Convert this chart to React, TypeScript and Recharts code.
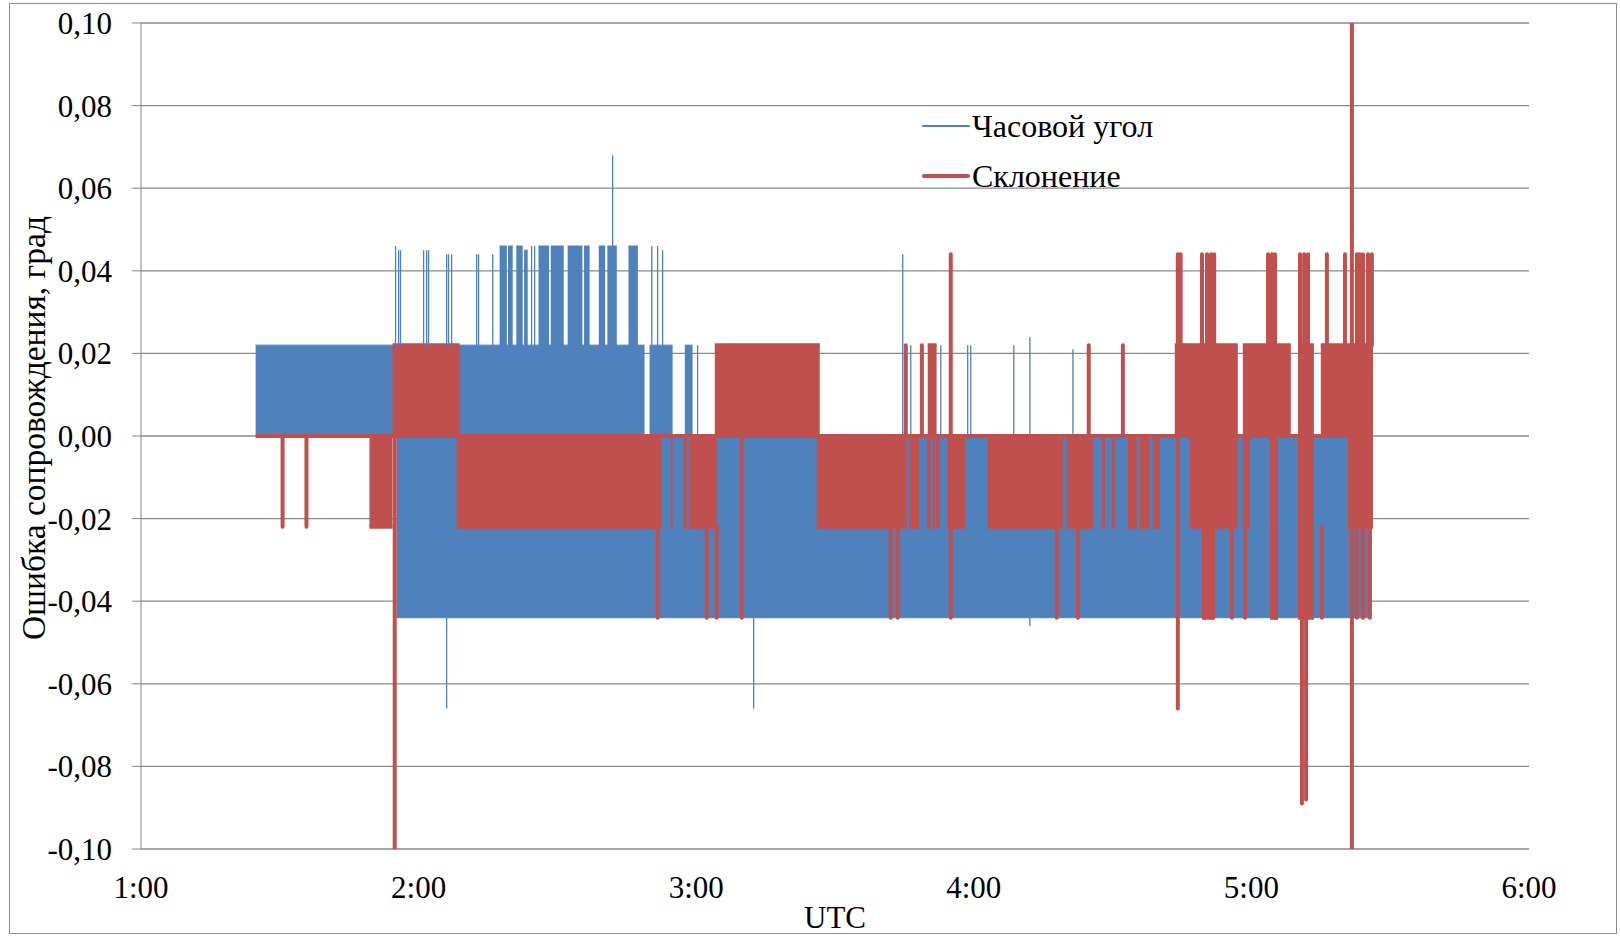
import React from 'react'
import { ComposedChart, Area, Line, XAxis, YAxis, CartesianGrid, Legend } from 'recharts'

// time is in hours UTC (1.5 = 1:30), values are tracking error in degrees
type Block = [number, number, number, number] // start, end, low, high (dense oscillation)
type Spike = [number, number, number] // time, from, to

const xTicks = [1, 2, 3, 4, 5, 6]
const xTickLabels = ['1:00', '2:00', '3:00', '4:00', '5:00', '6:00']
const yTicks = [-0.1, -0.08, -0.06, -0.04, -0.02, 0, 0.02, 0.04, 0.06, 0.08, 0.1]
const yTickLabels = ['-0,10', '-0,08', '-0,06', '-0,04', '-0,02', '0,00', '0,02', '0,04', '0,06', '0,08', '0,10']

// Часовой угол
const hourAngleBlocks: Block[] = [
    [1.413, 1.906, 0, 0.022],
    [1.906, 2.814, 0, 0.022],
    [2.832, 2.915, 0, 0.022],
    [2.959, 2.987, 0, 0.022],
    [1.921, 5.427, -0.044, 0],
    [2.292, 2.318, 0.022, 0.046],
    [2.322, 2.339, 0.022, 0.046],
    [2.352, 2.375, 0.022, 0.046],
    [2.380, 2.393, 0.022, 0.045],
    [2.432, 2.470, 0.022, 0.046],
    [2.476, 2.523, 0.022, 0.046],
    [2.537, 2.590, 0.022, 0.046],
    [2.596, 2.616, 0.022, 0.046],
    [2.649, 2.672, 0.022, 0.046],
    [2.680, 2.714, 0.022, 0.046],
    [2.756, 2.790, 0.022, 0.046],
]
const hourAngleSpikes: Spike[] = [
    [1.917, 0.022, 0.046], [1.928, 0.022, 0.045], [1.935, 0.022, 0.045],
    [2.018, 0.022, 0.045], [2.029, 0.022, 0.045], [2.036, 0.022, 0.045],
    [2.101, 0.022, 0.044], [2.108, 0.022, 0.044], [2.119, 0.022, 0.044],
    [2.209, 0.022, 0.044], [2.216, 0.022, 0.044], [2.267, 0.022, 0.044],
    [2.407, 0.022, 0.046], [2.418, 0.022, 0.046], [2.699, 0.022, 0.068],
    [2.840, 0.022, 0.046], [2.861, 0.022, 0.046], [2.879, 0.022, 0.045],
    [3.005, 0, 0.022], [3.744, 0, 0.044], [3.773, 0, 0.022], [3.881, 0, 0.022],
    [3.978, 0, 0.022], [3.989, 0, 0.022], [4.144, 0, 0.022], [4.202, 0, 0.024],
    [4.357, 0, 0.021],
    [2.101, -0.044, -0.066], [3.207, -0.044, -0.066], [4.202, -0.044, -0.046],
]

// Склонение
const declinationFlat: [number, number][] = [[1.413, 0], [5.438, 0]]
const declinationBlocks: Block[] = [
    [1.823, 1.906, -0.022, 0],
    [1.906, 2.148, 0, 0.022],
    [2.137, 2.876, -0.022, 0],
    [2.908, 2.915, -0.022, 0],
    [2.955, 2.966, -0.022, 0],
    [2.973, 3.074, -0.022, 0],
    [3.067, 3.445, 0, 0.022],
    [3.434, 3.758, -0.022, 0],
    [3.766, 3.802, -0.022, 0],
    [3.831, 3.845, -0.022, 0],
    [3.834, 3.866, 0, 0.022],
    [3.852, 3.859, -0.022, 0],
    [3.906, 3.968, -0.022, 0],
    [4.050, 4.321, -0.022, 0],
    [4.335, 4.429, -0.022, 0],
    [4.461, 4.472, -0.022, 0],
    [4.497, 4.508, -0.022, 0],
    [4.555, 4.587, -0.022, 0],
    [4.598, 4.634, -0.022, 0],
    [4.645, 4.670, -0.022, 0],
    [4.724, 4.951, 0, 0.022],
    [4.778, 4.951, -0.022, 0],
    [4.822, 4.869, -0.044, -0.022],
    [4.969, 5.142, 0, 0.022],
    [4.969, 4.995, -0.022, 0],
    [5.067, 5.096, -0.044, 0],
    [5.168, 5.225, -0.044, 0.022],
    [5.250, 5.438, 0, 0.022],
    [5.348, 5.438, -0.022, 0],
]
const declinationSpikes: Spike[] = [
    [1.510, 0, -0.022], [1.596, 0, -0.022], [1.914, 0, -0.1],
    [2.861, -0.022, -0.044], [3.038, -0.022, -0.044], [3.074, -0.022, -0.044],
    [3.164, 0, -0.044], [3.701, -0.022, -0.044], [3.726, -0.022, -0.044],
    [3.755, 0, 0.022], [3.813, 0, 0.022], [3.870, 0, -0.022], [3.917, -0.044, 0.044],
    [4.299, -0.022, -0.044], [4.375, -0.022, -0.044], [4.414, 0, 0.022], [4.537, 0, 0.022],
    [4.735, 0.022, 0.044], [4.745, 0.022, 0.044], [4.735, 0, -0.066],
    [4.822, 0.022, 0.044], [4.840, 0.022, 0.044], [4.854, 0.022, 0.044], [4.866, 0.022, 0.044],
    [4.930, -0.022, -0.044], [4.977, -0.022, -0.044],
    [5.060, 0.022, 0.044], [5.074, 0.022, 0.044], [5.085, 0.022, 0.044], [5.085, -0.022, -0.044],
    [5.175, 0.022, 0.044], [5.190, 0.022, 0.044], [5.204, 0.022, 0.044],
    [5.182, -0.044, -0.089], [5.197, -0.044, -0.088],
    [5.254, -0.022, -0.044], [5.272, 0.022, 0.044], [5.337, 0.022, 0.044],
    [5.362, -0.1, 0.1],
    [5.380, 0.022, 0.044], [5.390, 0.022, 0.044], [5.402, 0.022, 0.044],
    [5.420, 0.022, 0.044], [5.434, 0.022, 0.044],
    [5.380, -0.022, -0.044], [5.402, -0.022, -0.044], [5.427, -0.022, -0.044],
]

const BLUE = '#4F81BD'
const RED = '#C0504D'
const FONT = '"Liberation Serif", "Times New Roman", serif'

type Row = { t: number; [k: string]: number | number[] | null }

// one table, each series uses its own key; rows with an empty key break that series
const rows: Row[] = []
const addBlocks = (key: string, blocks: Block[]) =>
    blocks.forEach(([s, e, lo, hi]) => rows.push({ t: s, [key]: [lo, hi] }, { t: e, [key]: [lo, hi] }, { t: e, [key]: null }))
const addSpikes = (key: string, spikes: Spike[]) =>
    spikes.forEach(([t, a, b]) => rows.push({ t, [key]: a }, { t, [key]: b }, { t, [key]: null }))

addBlocks('haBand', hourAngleBlocks)
addSpikes('haSpike', hourAngleSpikes)
declinationFlat.forEach(([t, v]) => rows.push({ t, deFlat: v }))
addBlocks('deBand', declinationBlocks)
addSpikes('deSpike', declinationSpikes)

const legendItems = [
    { name: 'Часовой угол', color: BLUE, width: 1.3 },
    { name: 'Склонение', color: RED, width: 4 },
]

function LegendBox() {
    return (
        <div style={{ fontFamily: FONT, fontSize: 32, color: '#000' }}>
            {legendItems.map((it) => (
                <div key={it.name} style={{ display: 'flex', alignItems: 'center', height: 50 }}>
                    <span style={{ display: 'inline-block', width: 48, height: it.width, background: it.color, borderRadius: 2 }} />
                    <span style={{ marginLeft: 2 }}>{it.name}</span>
                </div>
            ))}
        </div>
    )
}

function YTitle() {
    return (
        <text x={34} y={428} transform="rotate(-90 34 428)" textAnchor="middle" dominantBaseline="central"
            fontFamily={FONT} fontSize={33} fill="#000" textLength={424} lengthAdjust="spacingAndGlyphs">
            Ошибка сопровождения, град
        </text>
    )
}

export default function App() {
    return (
        <div style={{ position: 'absolute', left: 0, top: 0, width: 1620, height: 937, background: '#fff' }}>
            <div style={{ position: 'absolute', left: 9, top: 3, width: 1606, height: 929, border: '1.5px solid #8c8c8c' }} />
            <ComposedChart width={1620} height={937} data={rows} margin={{ top: 23, right: 91, bottom: 0, left: 0 }}>
                <CartesianGrid vertical={false} stroke="#8a8a8a" strokeWidth={1.3} />
                <XAxis dataKey="t" type="number" domain={[1, 6]} ticks={xTicks} allowDataOverflow
                    tickFormatter={(v, i) => xTickLabels[i]} height={88} axisLine={false} tickLine={false}
                    tickSize={0} tickMargin={27} tick={{ fontFamily: FONT, fontSize: 31, fill: '#000' }}
                    label={{ value: 'UTC', position: 'insideBottom', offset: 9, fontFamily: FONT, fontSize: 31, fill: '#000' }} />
                <YAxis type="number" domain={[-0.1, 0.1]} ticks={yTicks} allowDataOverflow width={141}
                    tickFormatter={(v, i) => yTickLabels[i]} stroke="#868686" tickSize={9} tickMargin={20}
                    tick={{ fontFamily: FONT, fontSize: 31, fill: '#000' }} label={<YTitle />} />
                <Legend content={<LegendBox />} layout="vertical" align="center" verticalAlign="middle"
                    wrapperStyle={{ left: 922, top: 101, width: 270 }} />
                <Area dataKey="haBand" type="linear" fill={BLUE} fillOpacity={1} stroke={BLUE} strokeWidth={1}
                    isAnimationActive={false} legendType="none" activeDot={false} />
                <Line dataKey="haSpike" type="linear" stroke={BLUE} strokeWidth={1.3} dot={false} activeDot={false}
                    isAnimationActive={false} legendType="none" />
                <Line dataKey="deFlat" type="linear" stroke={RED} strokeWidth={4} dot={false} activeDot={false}
                    isAnimationActive={false} legendType="none" />
                <Area dataKey="deBand" type="linear" fill={RED} fillOpacity={1} stroke={RED} strokeWidth={4}
                    isAnimationActive={false} legendType="none" activeDot={false} />
                <Line dataKey="deSpike" type="linear" stroke={RED} strokeWidth={4} strokeLinecap="round" dot={false}
                    activeDot={false} isAnimationActive={false} legendType="none" />
            </ComposedChart>
        </div>
    )
}
